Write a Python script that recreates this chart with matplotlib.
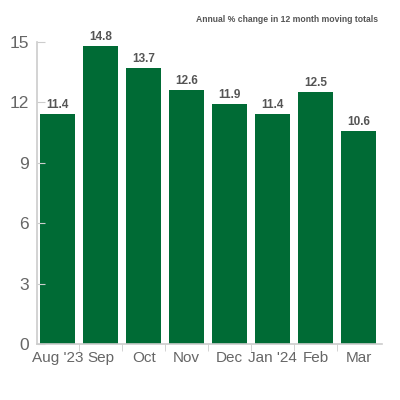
import matplotlib
matplotlib.use("Agg")
import matplotlib.pyplot as plt
import numpy as np

months = ["Aug '23", "Sep", "Oct", "Nov", "Dec", "Jan '24", "Feb", "Mar"]
values = [11.4, 14.8, 13.7, 12.6, 11.9, 11.4, 12.5, 10.6]
yticks = [0, 3, 6, 9, 12, 15]
title = "Annual % change in 12 month moving totals"

green = "#006b35"
axis_grey = "#cccccc"
text_grey = "#666666"

fig = plt.figure(figsize=(4, 4), dpi=100)
ax = fig.add_axes([0.0925, 0.14, 0.8625, 0.755])

x = np.arange(len(months))
bars = ax.bar(x, values, width=0.81, color=green)

for xi, v in zip(x, values):
    ax.text(xi, v + 0.15, f"{v}", ha="center", va="bottom", fontsize=8.5,
            fontweight="bold", color="#555555", family="Liberation Sans")

ax.set_xlim(-0.48, 7.54)
ax.set_ylim(0, 15)
ax.set_yticks(yticks)
ax.set_xticks(x)
ax.set_xticklabels(months)
ax.set_xticks(x[:-1] + 0.5, minor=True)

for s in ["top", "right"]:
    ax.spines[s].set_visible(False)
for s in ["left", "bottom"]:
    ax.spines[s].set_color(axis_grey)
    ax.spines[s].set_linewidth(1.2)

ax.tick_params(axis="y", direction="in", length=6, color=axis_grey,
               labelsize=12.5, labelcolor=text_grey, pad=6)
ax.tick_params(axis="x", which="major", length=0, labelsize=11,
               labelcolor=text_grey, pad=5)
ax.tick_params(axis="x", which="minor", length=5, color=axis_grey)
for lab in ax.get_xticklabels() + ax.get_yticklabels():
    lab.set_family("Liberation Sans")

fig.text(0.945, 0.952, title, ha="right", va="center", fontsize=6.2,
         fontweight="bold", color="#555555", family="Liberation Sans")

fig.savefig("out.png", dpi=100)
